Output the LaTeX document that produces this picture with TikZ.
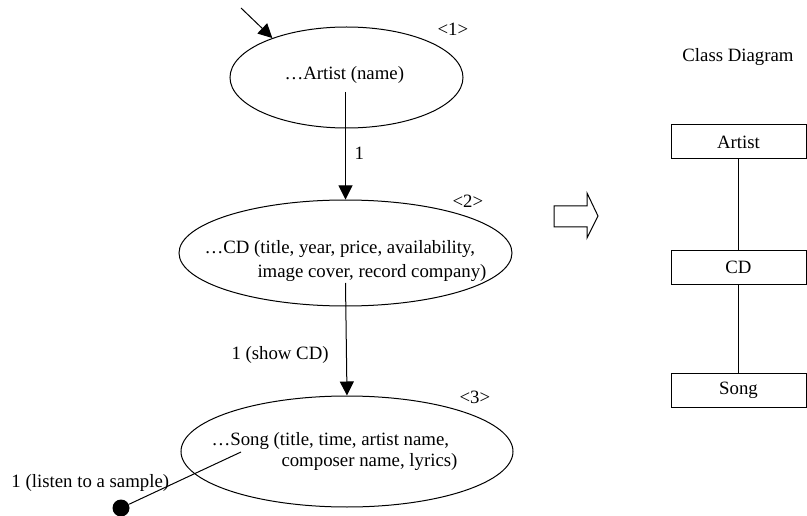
\documentclass[tikz,border=0pt]{standalone}
\usepackage{fontspec}
\setmainfont{Liberation Serif}
\usetikzlibrary{shapes.geometric,arrows.meta}
\begin{document}
\begin{tikzpicture}[x=1pt,y=-1pt,
  line width=1pt,
  every node/.style={font=\fontsize{18.8}{22}\selectfont, inner sep=0pt},
  usecase/.style={draw, ellipse, minimum width=#1},
  label txt/.style={anchor=base west},
  flow/.style={-{Triangle[length=14pt,width=14pt]}},
  classbox/.style={draw, rectangle, minimum width=135pt, minimum height=34pt},
  assoc/.style={draw}]
\useasboundingbox (0,0) rectangle (807,516);

% navigation use cases
\node[usecase=233pt, minimum height=101pt] (artist) at (346.5,77.5) {};
\node[usecase=333pt, minimum height=106pt] (cd) at (345.5,253) {};
\node[usecase=332pt, minimum height=111pt] (song) at (347,451.5) {};

\node[label txt] (artisttxt) at (284,80) {\dots Artist (name)};
\node[label txt] (cdtxta) at (204,254) {\dots CD (title, year, price, availability,};
\node[label txt] (cdtxtb) at (257,277) {image cover, record company)};
\node[label txt] (songtxta) at (211,445) {\dots Song (title, time, artist name,};
\node[label txt] (songtxtb) at (281,466) {composer name, lyrics)};

\node[label txt] (n1) at (437,36) {<1>};
\node[label txt] (n2) at (452,208) {<2>};
\node[label txt] (n3) at (459,403) {<3>};

% entry point
\coordinate (entry) at (241,8);
\draw[flow] (entry) -- (artist.152);

% transitions
\coordinate (fromartist) at (345.5,92);
\draw[flow] (fromartist) -- (cd.north);
\node[label txt] (lbl1) at (354,160) {1};

\coordinate (fromcd) at (345.5,283);
\draw[flow] (fromcd) -- (song.north);
\node[label txt] (lbl2) at (231,359) {1 (show CD)};

\coordinate (fromsong) at (241,452);
\node[circle, fill, minimum size=17pt] (dot) at (121,508) {};
\draw (fromsong) -- (dot);
\node[label txt] (lbl3) at (11,487) {1 (listen to a sample)};

% transformation arrow
\draw (554,206) -- (587,206) -- (587,193) -- (598,216)
  -- (587,238) -- (587,227) -- (554,227) -- cycle;

% class diagram
\node (cdtitle) at (738,57) {Class Diagram};
\node[classbox] (cArtist) at (738.5,142) {Artist};
\node[classbox] (cCD) at (738.5,267.5) {CD};
\node[classbox] (cSong) at (738.5,390.5) {Song};
\draw (cArtist) -- (cCD);
\draw (cCD) -- (cSong);
\end{tikzpicture}
\end{document}
